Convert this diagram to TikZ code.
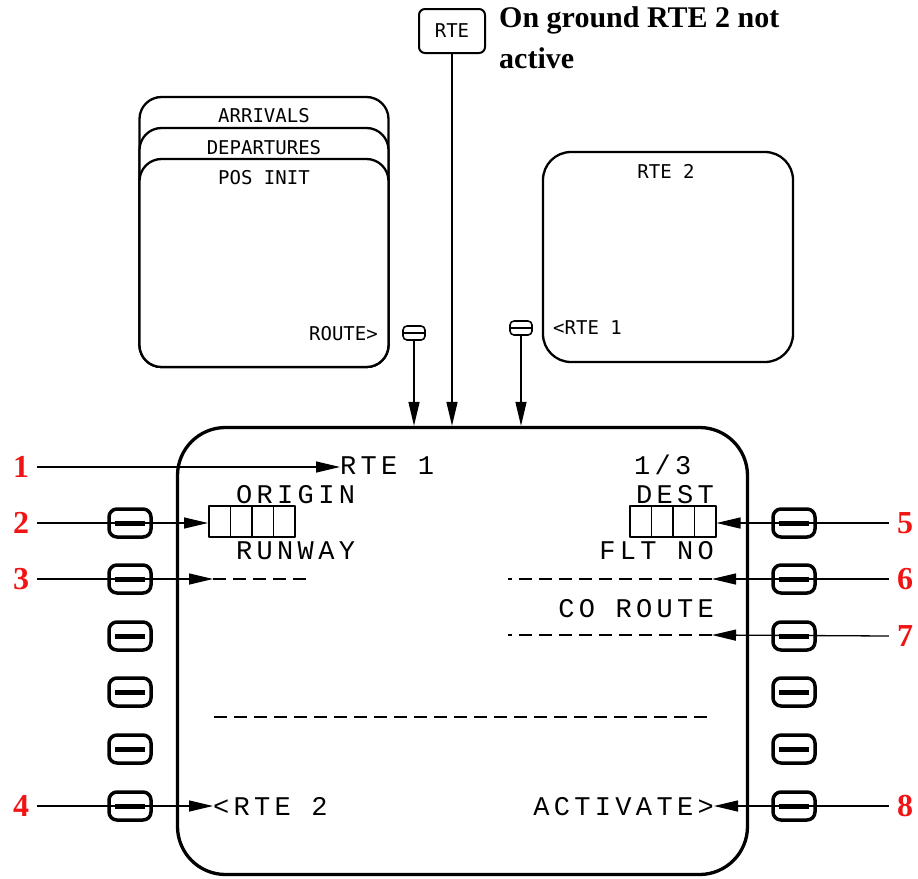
\documentclass[tikz,border=0pt]{standalone}
\usepackage{fontspec}
\setmainfont{Liberation Serif}
\setmonofont{Liberation Mono}
\newfontfamily\fmsfont{DejaVu Sans Mono}
\newfontfamily\cdufont{Liberation Mono}[LetterSpace=16]
\usetikzlibrary{arrows.meta,calc}
\definecolor{calloutred}{RGB}{240,20,20}

\begin{document}
\begin{tikzpicture}[x=1pt,y=-1pt,line join=round,
 cdutxt/.style={font=\fontsize{27}{27}\selectfont\cdufont,inner sep=0pt},
 pagetxt/.style={font=\fontsize{19}{19}\selectfont\fmsfont,inner sep=0pt},
 callout/.style={font=\fontsize{32}{32}\selectfont\bfseries,text=calloutred,inner xsep=8pt,inner ysep=0pt},
 pagebox/.style={draw,line width=2.3pt,rounded corners=22pt,fill=white,minimum width=249pt},
 lskbox/.style={draw,line width=3.5pt,rounded corners=8pt,minimum width=42pt,minimum height=28pt,inner sep=0pt},
 minikey/.style={draw,line width=1.6pt,rounded corners=4pt,minimum width=22pt,minimum height=14pt,inner sep=0pt},
 cell/.style={draw,line width=1.5pt,minimum width=21.5pt,minimum height=31pt,inner sep=0pt,anchor=north west},
 entry/.style={line width=1.5pt,dash pattern=on 13pt off 7pt},
 ptr/.style={-{Triangle[length=24pt,width=11pt]},line width=1.3pt}]
 \useasboundingbox (0,0) rectangle (918,878);
 % key and note
 \node[draw,line width=2pt,rounded corners=6pt,minimum width=66pt,minimum height=44pt,inner sep=0pt,pagetxt] (rtekey) at (452,31) {RTE};
 \node[anchor=north west,align=left,font=\fontsize{30}{41}\selectfont\bfseries,inner sep=0pt] (note) at (499,6) {On ground RTE 2 not\\active};
 % page stack
 \node[pagebox,minimum height=270pt] (arrpg) at (264,232) {};
 \node[pagebox,minimum height=239pt] (deppg) at (264,247.5) {};
 \node[pagebox,minimum height=208pt] (pospg) at (264,263) {};
 \node[pagetxt,anchor=base] (arr) at (264,122) {ARRIVALS};
 \node[pagetxt,anchor=base] (dep) at (264,154) {DEPARTURES};
 \node[pagetxt,anchor=base] (pos) at (264,184) {POS INIT};
 \node[pagetxt,anchor=base east] (route) at (378,340) {ROUTE>};
 \node[pagebox,minimum width=250pt,minimum height=210pt,rounded corners=28pt] (rtepg) at (668,257) {};
 \node[pagetxt,anchor=base] (rteIIttl) at (666,178) {RTE 2};
 \node[pagetxt,anchor=base west] (rteI) at (553,334) {<RTE 1};
 \node[minikey] (mkL) at (414,333) {};
 \node[minikey] (mkR) at (521,328) {};
 \foreach \k in {mkL,mkR} \draw[line width=1.4pt] (\k.west) -- (\k.east);
 % screen
 \node[draw,line width=3.3pt,rounded corners=48pt,minimum width=570pt,minimum height=447pt] (cdu) at (462.5,651) {};
 \draw[ptr] (mkL.south) -- (mkL.south |- cdu.north);
 \draw[ptr] (rtekey.south) -- (rtekey.south |- cdu.north);
 \draw[ptr] (mkR.south) -- (mkR.south |- cdu.north);
 \node[cdutxt,anchor=base west] (ttl) at (340,474) {RTE 1};
 \node[cdutxt,anchor=base west] (pgno) at (634,474) {1/3};
 \node[cdutxt,anchor=base west] (orig) at (236,503) {ORIGIN};
 \node[cdutxt,anchor=base east] (dest) at (714,503) {DEST};
 \node[cdutxt,anchor=base west] (rwyttl) at (236,559) {RUNWAY};
 \node[cdutxt,anchor=base east] (fltttl) at (714,559) {FLT NO};
 \node[cdutxt,anchor=base east] (corttl) at (714,617) {CO ROUTE};
 \node[cdutxt,anchor=base west] (rteII) at (213,815) {<RTE 2};
 \node[cdutxt,anchor=base east] (act) at (714,815) {ACTIVATE>};
 \foreach \i in {0,...,3}
  {\node[cell] (org\i) at (208+21.5*\i,505) {};
   \node[cell] (dst\i) at (629+21.5*\i,505) {};}
 \coordinate (rwy) at (213,579);\coordinate (flt) at (712,579);\coordinate (cor) at (712,635);
 \draw[entry] (rwy) -- ++(94,0);
 \draw[entry] (flt) -- (508,579);
 \draw[entry] (cor) -- (508,635);
 \draw[entry] (214,717) -- (712,717);
 % line select keys
 \foreach \y [count=\i] in {523,579,636,692,749,806}
  {\node[lskbox] (lsL\i) at (130,\y) {};
   \node[lskbox] (lsR\i) at (794,\y) {};
   \draw[line width=5pt] ([xshift=7.5pt]lsL\i.west) -- ([xshift=-7.5pt]lsL\i.east);
   \draw[line width=5pt] ([xshift=7.5pt]lsR\i.west) -- ([xshift=-7.5pt]lsR\i.east);}
 % callouts
 \foreach \n/\y in {1/467,2/523,3/579,4/806} \node[callout] (c\n) at (21,\y) {\n};
 \foreach \n/\y in {5/523,6/579,7/636,8/806} \node[callout] (c\n) at (905,\y) {\n};
 \draw[ptr] (c1.east) -- (c1.east -| ttl.west);
 \draw[ptr] (c2.east) -- (c2.east -| org0.west);
 \draw[ptr] (c3.east) -- (rwy);
 \draw[ptr] (c4.east) -- (c4.east -| rteII.west);
 \draw[ptr] (c5.west) -- (c5.west -| dst3.east);
 \draw[ptr] (c6.west) -- (flt);
 \draw[ptr] (c7.west) -- (cor);
 \draw[ptr] (c8.west) -- (c8.west -| act.east);
\end{tikzpicture}
\end{document}
